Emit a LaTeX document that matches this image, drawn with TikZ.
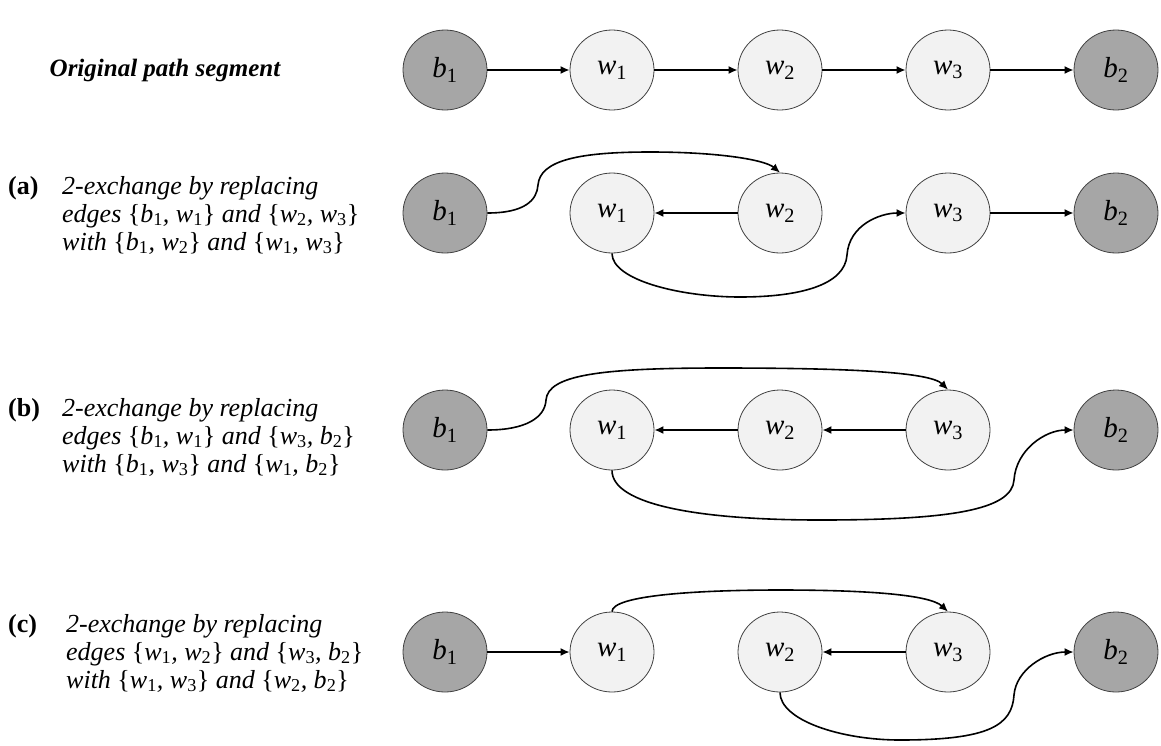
\documentclass[tikz,border=0pt]{standalone}
\usepackage{fontspec}
\setmainfont{Liberation Serif}
\usetikzlibrary{arrows.meta,shapes.geometric}
\newcommand\vb[2]{\textit{#1}\textsubscript{\upshape #2}}
\newcommand\lb{{\upshape\{}}
\newcommand\rb{{\upshape\}}}
\begin{document}
\begin{tikzpicture}[x=1pt,y=-1pt,
 nd/.style={ellipse, minimum width=84pt, minimum height=80pt, inner sep=0pt, draw=black!75, line width=0.8pt, font=\fontsize{29}{30}\selectfont},
 bn/.style={nd, fill=black!35},
 wn/.style={nd, fill=black!5},
 ar/.style={-{Latex[length=9pt,width=8pt]}, line width=1.6pt},
 lab/.style={anchor=base west, font=\fontsize{26}{28}\selectfont\itshape, align=left, inner sep=0pt},
 tag/.style={anchor=base west, font=\fontsize{26}{28}\selectfont\bfseries, inner sep=0pt}]
\useasboundingbox (0,0) rectangle (1161,745);

% row 0
\node[font=\fontsize{25}{28}\selectfont\bfseries\itshape] (title) at (165,70) {Original path segment};
\node[bn] (o-b1) at (445,70) {\vb{b}{1}};
\node[wn] (o-w1) at (612,70) {\vb{w}{1}};
\node[wn] (o-w2) at (780,70) {\vb{w}{2}};
\node[wn] (o-w3) at (948,70) {\vb{w}{3}};
\node[bn] (o-b2) at (1116,70) {\vb{b}{2}};
\draw[ar] (o-b1) -- (o-w1);
\draw[ar] (o-w1) -- (o-w2);
\draw[ar] (o-w2) -- (o-w3);
\draw[ar] (o-w3) -- (o-b2);

% row a
\node[tag] (ta) at (8,194) {(a)};
\node[lab] (la) at (62,250) {2-exchange by replacing\\edges \lb\vb{b}{1}, \vb{w}{1}\rb{} and \lb\vb{w}{2}, \vb{w}{3}\rb\\with \lb\vb{b}{1}, \vb{w}{2}\rb{} and \lb\vb{w}{1}, \vb{w}{3}\rb};
\node[bn] (a-b1) at (445,213) {\vb{b}{1}};
\node[wn] (a-w1) at (612,213) {\vb{w}{1}};
\node[wn] (a-w2) at (780,213) {\vb{w}{2}};
\node[wn] (a-w3) at (948,213) {\vb{w}{3}};
\node[bn] (a-b2) at (1116,213) {\vb{b}{2}};
\draw[ar] (a-w2) -- (a-w1);
\draw[ar] (a-w3) -- (a-b2);
\draw[ar] (a-b1.east) .. controls (525,213) and (537,200) .. (538,185) .. controls (540,160) and (580,152) .. (650,152) .. controls (720,152) and (765,160) .. (a-w2.north);
\draw[ar] (a-w1.south) .. controls (612,280) and (680,297) .. (740,297) .. controls (800,297) and (845,285) .. (847,255) .. controls (849,225) and (880,213) .. (a-w3.west);

% row b
\node[tag] (tb) at (8,416) {(b)};
\node[lab] (lb) at (62,472) {2-exchange by replacing\\edges \lb\vb{b}{1}, \vb{w}{1}\rb{} and \lb\vb{w}{3}, \vb{b}{2}\rb\\with \lb\vb{b}{1}, \vb{w}{3}\rb{} and \lb\vb{w}{1}, \vb{b}{2}\rb};
\node[bn] (b-b1) at (445,430) {\vb{b}{1}};
\node[wn] (b-w1) at (612,430) {\vb{w}{1}};
\node[wn] (b-w2) at (780,430) {\vb{w}{2}};
\node[wn] (b-w3) at (948,430) {\vb{w}{3}};
\node[bn] (b-b2) at (1116,430) {\vb{b}{2}};
\draw[ar] (b-w3) -- (b-w2);
\draw[ar] (b-w2) -- (b-w1);
\draw[ar] (b-b1.east) .. controls (525,430) and (545,418) .. (546,400) .. controls (548,375) and (600,368) .. (720,368) .. controls (850,368) and (930,372) .. (b-w3.north);
\draw[ar] (b-w1.south) .. controls (612,505) and (700,520) .. (820,520) .. controls (950,520) and (1012,510) .. (1014,480) .. controls (1016,450) and (1045,430) .. (b-b2.west);

% row c
\node[tag] (tc) at (8,632) {(c)};
\node[lab] (lc) at (66,688) {2-exchange by replacing\\edges \lb\vb{w}{1}, \vb{w}{2}\rb{} and \lb\vb{w}{3}, \vb{b}{2}\rb\\with \lb\vb{w}{1}, \vb{w}{3}\rb{} and \lb\vb{w}{2}, \vb{b}{2}\rb};
\node[bn] (c-b1) at (445,652) {\vb{b}{1}};
\node[wn] (c-w1) at (612,652) {\vb{w}{1}};
\node[wn] (c-w2) at (780,652) {\vb{w}{2}};
\node[wn] (c-w3) at (948,652) {\vb{w}{3}};
\node[bn] (c-b2) at (1116,652) {\vb{b}{2}};
\draw[ar] (c-b1) -- (c-w1);
\draw[ar] (c-w3) -- (c-w2);
\draw[ar] (c-w1.north) .. controls (612,595) and (700,590) .. (780,590) .. controls (870,590) and (930,595) .. (c-w3.north);
\draw[ar] (c-w2.south) .. controls (780,720) and (840,740) .. (900,740) .. controls (990,740) and (1012,725) .. (1014,695) .. controls (1016,670) and (1045,652) .. (c-b2.west);
\end{tikzpicture}
\end{document}
